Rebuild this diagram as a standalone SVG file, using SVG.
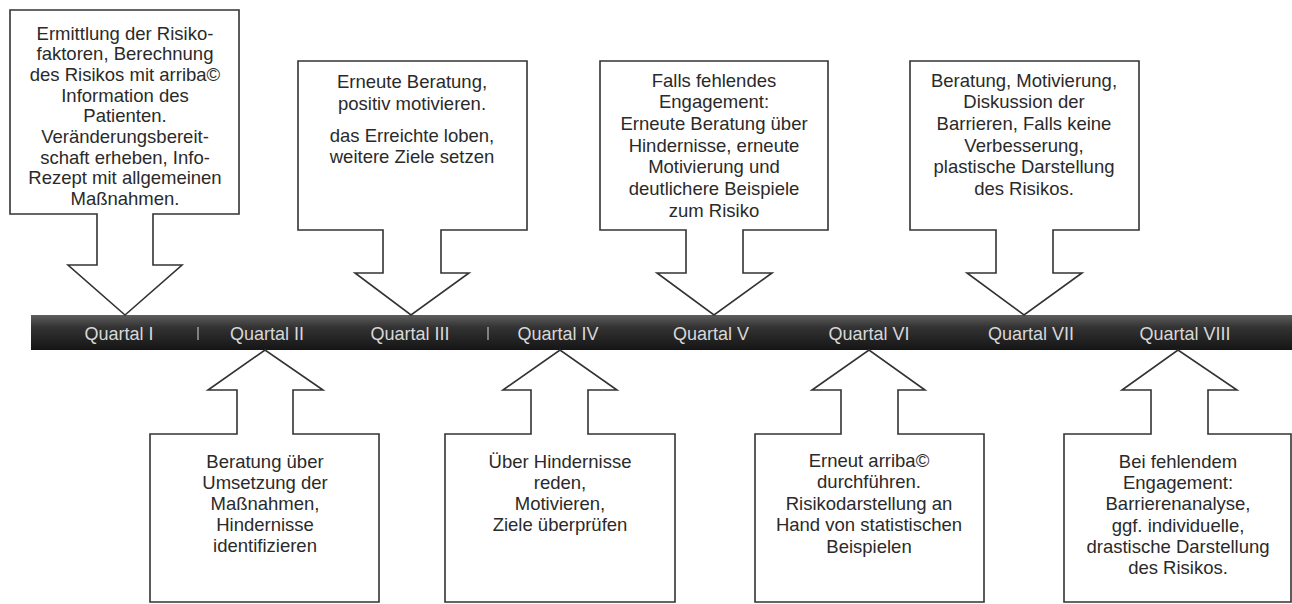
<svg xmlns="http://www.w3.org/2000/svg" width="1292" height="604" viewBox="0 0 1292 604">
<defs>
<linearGradient id="barGrad" x1="0" y1="0" x2="0" y2="1">
<stop offset="0" stop-color="#5e5e5e"/>
<stop offset="0.35" stop-color="#333333"/>
<stop offset="1" stop-color="#151515"/>
</linearGradient>
</defs>
<style>
.box{fill:#ffffff;stroke:#333333;stroke-width:1.6;stroke-linejoin:miter}
.t{font-family:"Liberation Sans",Arial,sans-serif;font-size:18.5px;fill:#2a2a2a;text-anchor:middle}
.q{font-family:"Liberation Sans",Arial,sans-serif;font-size:18px;fill:#d8d8d8;text-anchor:middle}
.sep{stroke:#bbbbbb;stroke-width:1.2}
</style>
<rect width="1292" height="604" fill="#ffffff"/>

<g id="timeline">
<rect x="31" y="315" width="1261" height="35" fill="url(#barGrad)"/>
<line class="sep" x1="198" y1="327" x2="198" y2="340"/>
<line class="sep" x1="488" y1="327" x2="488" y2="340"/>
<text class="q" x="119" y="339.5">Quartal I</text>
<text class="q" x="267" y="339.5">Quartal II</text>
<text class="q" x="410" y="339.5">Quartal III</text>
<text class="q" x="558" y="339.5">Quartal IV</text>
<text class="q" x="711" y="339.5">Quartal V</text>
<text class="q" x="869" y="339.5">Quartal VI</text>
<text class="q" x="1031" y="339.5">Quartal VII</text>
<text class="q" x="1185" y="339.5">Quartal VIII</text>
</g>

<g id="connectors"></g>

<g id="q1">
<path class="box" d="M10,10 H239 V214 H153 V265 H182 L125,315 L68,265 H97 V214 H10 Z"/>
<text class="t" x="125" y="39.5">Ermittlung der Risiko-</text>
<text class="t" x="125" y="60.2">faktoren, Berechnung</text>
<text class="t" x="125" y="80.9">des Risikos mit arriba©</text>
<text class="t" x="125" y="101.6">Information des</text>
<text class="t" x="125" y="122.3">Patienten.</text>
<text class="t" x="125" y="143">Veränderungsbereit-</text>
<text class="t" x="125" y="163.7">schaft erheben, Info-</text>
<text class="t" x="125" y="184.4">Rezept mit allgemeinen</text>
<text class="t" x="125" y="205.1">Maßnahmen.</text>
</g>

<g id="q3">
<path class="box" d="M298,61 H527 V230 H441 V273 H469 L411,315 L355,273 H383 V230 H298 Z"/>
<text class="t" x="412" y="87.5">Erneute Beratung,</text>
<text class="t" x="412" y="109.5">positiv motivieren.</text>
<text class="t" x="412" y="142">das Erreichte loben,</text>
<text class="t" x="412" y="163">weitere Ziele setzen</text>
</g>

<g id="q5">
<path class="box" d="M600,61 H828 V230 H743 V273 H772 L714,315 L657,273 H686 V230 H600 Z"/>
<text class="t" x="714" y="86.5">Falls fehlendes</text>
<text class="t" x="714" y="108.2">Engagement:</text>
<text class="t" x="714" y="129.9">Erneute Beratung über</text>
<text class="t" x="714" y="151.6">Hindernisse, erneute</text>
<text class="t" x="714" y="173.3">Motivierung und</text>
<text class="t" x="714" y="195">deutlichere Beispiele</text>
<text class="t" x="714" y="216.7">zum Risiko</text>
</g>

<g id="q7">
<path class="box" d="M910,61 H1139 V230 H1053 V273 H1082 L1024,315 L967,273 H996 V230 H910 Z"/>
<text class="t" x="1024" y="86.5">Beratung, Motivierung,</text>
<text class="t" x="1024" y="108.2">Diskussion der</text>
<text class="t" x="1024" y="129.9">Barrieren, Falls keine</text>
<text class="t" x="1024" y="151.6">Verbesserung,</text>
<text class="t" x="1024" y="173.3">plastische Darstellung</text>
<text class="t" x="1024" y="195">des Risikos.</text>
</g>

<g id="q2">
<path class="box" d="M150,602 V434 H237 V390 H208 L265,350 L323,390 H293 V434 H379 V602 Z"/>
<text class="t" x="265" y="468">Beratung über</text>
<text class="t" x="265" y="489">Umsetzung der</text>
<text class="t" x="265" y="510">Maßnahmen,</text>
<text class="t" x="265" y="531">Hindernisse</text>
<text class="t" x="265" y="552">identifizieren</text>
</g>

<g id="q4">
<path class="box" d="M445,602 V434 H531 V390 H503 L560,350 L617,390 H588 V434 H675 V602 Z"/>
<text class="t" x="560" y="468">Über Hindernisse</text>
<text class="t" x="560" y="489">reden,</text>
<text class="t" x="560" y="510">Motivieren,</text>
<text class="t" x="560" y="531">Ziele überprüfen</text>
</g>

<g id="q6">
<path class="box" d="M755,602 V434 H841 V390 H812 L869,350 L925,390 H898 V434 H984 V602 Z"/>
<text class="t" x="869" y="467">Erneut arriba©</text>
<text class="t" x="869" y="488">durchführen.</text>
<text class="t" x="869" y="509.5">Risikodarstellung an</text>
<text class="t" x="869" y="531">Hand von statistischen</text>
<text class="t" x="869" y="552.5">Beispielen</text>
</g>

<g id="q8">
<path class="box" d="M1064,602 V434 H1151 V390 H1122 L1178,350 L1237,390 H1208 V434 H1291 V602 Z"/>
<text class="t" x="1178" y="468">Bei fehlendem</text>
<text class="t" x="1178" y="489">Engagement:</text>
<text class="t" x="1178" y="510">Barrierenanalyse,</text>
<text class="t" x="1178" y="531.5">ggf. individuelle,</text>
<text class="t" x="1178" y="553">drastische Darstellung</text>
<text class="t" x="1178" y="574">des Risikos.</text>
</g>
</svg>
